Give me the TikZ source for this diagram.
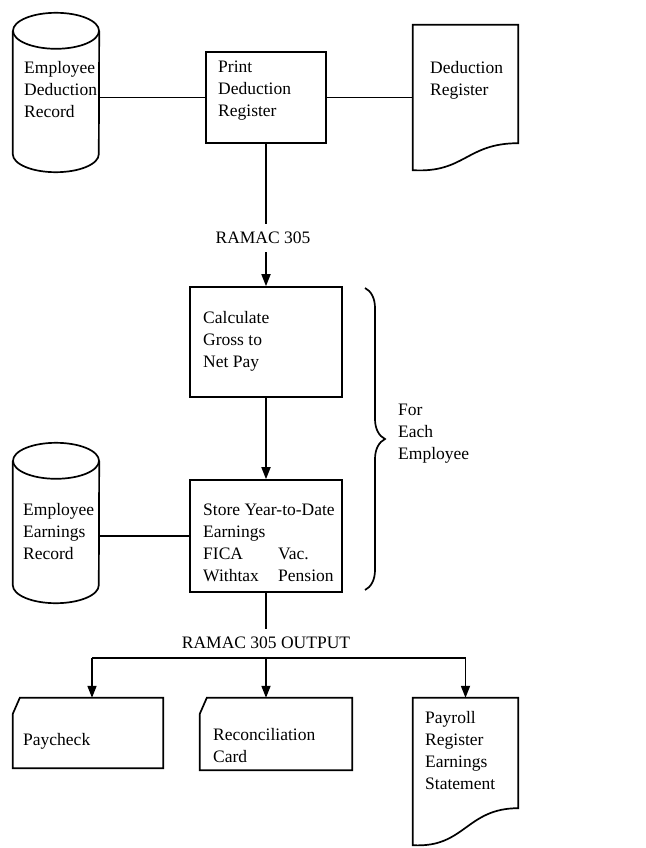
\documentclass[tikz,border=0pt]{standalone}
\usepackage{fontspec}
\setmainfont{Liberation Serif}
\usetikzlibrary{arrows.meta,decorations.pathreplacing}
\begin{document}
\begin{tikzpicture}[x=1pt,y=1pt,
  every node/.style={inner sep=0pt},
  ln/.style={line width=1.7pt},
  arr/.style={line width=1.7pt,-{Triangle[length=12pt,width=9pt]}},
  txt/.style={font=\fontsize{17.5}{22}\selectfont, align=left, anchor=north west},
  lbl/.style={font=\fontsize{17.5}{22}\selectfont, inner xsep=0pt, inner ysep=8pt},
  area/.style={rectangle, minimum width=#1},
  procbox/.style={draw, line width=1.7pt, rectangle},
]
\useasboundingbox (0,0) rectangle (645,-848);

% shape nodes
\node[area=86pt, minimum height=159pt] (cyl1) at (56,-92.5) {};
\node[procbox, minimum width=120pt, minimum height=91pt] (print) at (266,-97.5) {};
\node[area=105pt, minimum height=145pt] (doc1) at (465.5,-97.5) {};
\node[procbox, minimum width=152pt, minimum height=110pt] (calc) at (266,-342) {};
\node[procbox, minimum width=152pt, minimum height=112pt] (store) at (266,-536) {};
\node[area=86pt, minimum height=160pt] (cyl2) at (56,-523) {};
\node[area=150pt, minimum height=70pt] (pay) at (88,-733) {};
\node[area=152pt, minimum height=72pt] (rec) at (276,-734) {};
\node[area=105pt, minimum height=147pt] (doc2) at (465.5,-771.5) {};

% cylinders
\foreach \c in {cyl1,cyl2}{
  \draw[ln] ([yshift=-18pt]\c.north west) -- ([yshift=18pt]\c.south west)
     arc[start angle=180, end angle=360, x radius=43pt, y radius=18pt]
     -- ([yshift=-18pt]\c.north east);
  \draw[ln] ([yshift=-18pt]\c.north) ellipse [x radius=43pt, y radius=18pt];
}
% documents
\draw[ln] (doc1.south west) -- (doc1.north west) -- (doc1.north east) -- ([yshift=27pt]doc1.south east)
  .. controls ([xshift=-52pt,yshift=27pt]doc1.south east) and ([xshift=52pt,yshift=-3pt]doc1.south west) .. (doc1.south west) -- cycle;
\draw[ln] (doc2.south west) -- (doc2.north west) -- (doc2.north east) -- ([yshift=37pt]doc2.south east)
  .. controls ([xshift=-52pt,yshift=37pt]doc2.south east) and ([xshift=52pt,yshift=-3pt]doc2.south west) .. (doc2.south west) -- cycle;
% cards
\foreach \c in {pay,rec}{
  \draw[ln] (\c.south west) -- ([yshift=-16pt]\c.north west) -- ([xshift=7pt]\c.north west)
     -- (\c.north east) -- (\c.south east) -- cycle;
}

% texts
\node[txt] (t1) at (24,-58) {\strut Employee\\Deduction\\Record};
\node[txt] (t2) at (218,-57) {\strut Print\\Deduction\\Register};
\node[txt] (t3) at (430,-58) {\strut Deduction\\Register};
\node[txt] (t4) at (203,-308) {\strut Calculate\\Gross to\\Net Pay};
\node[txt] (t5) at (203,-500) {\strut Store Year-to-Date\\Earnings\\\makebox[75pt][l]{FICA}Vac.\\\makebox[75pt][l]{Withtax}Pension};
\node[txt] (t6) at (23,-500) {\strut Employee\\Earnings\\Record};
\node[txt] (t7) at (398,-400) {\strut For\\Each\\Employee};
\node[txt] (t8) at (23,-730) {\strut Paycheck};
\node[txt] (t9) at (213,-725) {\strut Reconciliation\\Card};
\node[txt] (t10) at (425,-708) {\strut Payroll\\Register\\Earnings\\Statement};
\node[lbl] (r305) at (263,-238) {RAMAC 305};
\node[lbl] (out305) at (266,-643) {RAMAC 305 OUTPUT};

% connectors
\draw[ln] (cyl1.east |- print.west) -- (print.west);
\draw[ln] (print.east) -- (doc1.west |- print.east);
\draw[ln] (print.south) -- (print.south |- r305.north);
\draw[arr] (calc.north |- r305.south) -- (calc.north);
\draw[arr] (calc.south) -- (store.north);
\draw[ln] (cyl2.east |- store.west) -- (store.west);
\draw[ln] (store.south) -- (store.south |- out305.north);
\coordinate (busL) at (92,-658);
\coordinate (busM) at (266,-658);
\coordinate (busR) at (465.5,-658);
\draw[ln] (busL) -- (busR);
\draw[arr] (busL) -- (busL |- pay.north);
\draw[arr] (busM) -- (busM |- rec.north);
\draw[arr] (busR) -- (doc2.north);
% brace
\draw[ln, decorate, decoration={brace, amplitude=20pt}] (365,-288) -- (365,-590);
\end{tikzpicture}
\end{document}
